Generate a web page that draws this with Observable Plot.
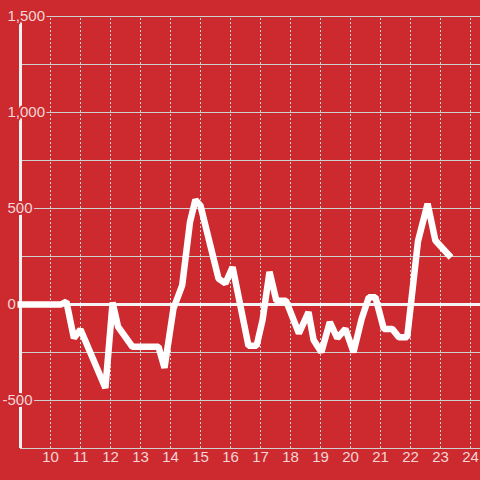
<!DOCTYPE html>
<html>
<head>
<meta charset="utf-8">
<script src="https://cdn.jsdelivr.net/npm/d3@7"></script>
<script src="https://cdn.jsdelivr.net/npm/@observablehq/plot@0.6"></script>
<style>
  html, body { margin: 0; padding: 0; background: #cc2a2f; }
</style>
</head>
<body>
<div id="chart"></div>
<script>
const xValues = [8.9, 10.35, 10.53, 10.78, 11.0, 11.83, 12.07, 12.25, 12.73, 13.6, 13.8, 14.1, 14.39, 14.65, 14.83, 15.0, 15.6, 15.83, 16.07, 16.6, 16.87, 17.07, 17.3, 17.53, 17.85, 18.28, 18.6, 18.77, 19.03, 19.31, 19.56, 19.83, 20.1, 20.37, 20.61, 20.83, 21.11, 21.39, 21.61, 21.89, 22.25, 22.57, 22.83, 23.35];
const yValues = [0, 0, 15, -175, -130, -435, 10, -115, -220, -220, -330, -20, 100, 430, 545, 515, 135, 110, 195, -215, -215, -80, 170, 20, 20, -150, -40, -185, -248, -92, -175, -127, -248, -75, 38, 38, -127, -127, -170, -170, 330, 525, 333, 245];
const xTicks = [10, 11, 12, 13, 14, 15, 16, 17, 18, 19, 20, 21, 22, 23, 24];
const yGrid = [-750, -500, -250, 0, 250, 500, 750, 1000, 1250, 1500];
const yLabels = [-500, 0, 500, 1000, 1500];

const data = xValues.map((x, i) => ({x, y: yValues[i]}));
const bg = "#cc2a2f";
const txt = "#f5d6d6";
const fmt = d3.format(",");

const chart = Plot.plot({
  width: 480,
  height: 480,
  marginLeft: 20,
  marginRight: 0,
  marginTop: 16,
  marginBottom: 32,
  style: {background: bg, fontFamily: "'Liberation Sans', Arial, sans-serif", fontSize: "15px"},
  x: {domain: [9, 9 + 460 / 30], axis: null},
  y: {domain: [-750, 1500], axis: null},
  marks: [
    Plot.ruleX(xTicks, {x: d => d, y1: -750, y2: 1500, stroke: "#d6d6d6", strokeWidth: 1, strokeDasharray: "2,2"}),
    Plot.ruleY(yGrid, {y: d => d, stroke: "#cfcfcf", strokeWidth: 1}),
    Plot.ruleY([0], {stroke: "#f4f4f4", strokeWidth: 3}),
    Plot.ruleX([9], {y1: -750, y2: 1500, stroke: "#f0f0f0", strokeWidth: 3}),
    Plot.text(xTicks, {x: d => d, frameAnchor: "bottom", dy: 13, text: d => String(d), fill: txt, fontSize: 15}),
    Plot.text(yLabels.filter(d => d >= 0), {y: d => d, frameAnchor: "left", dx: -13, textAnchor: "start", text: d => fmt(d), fill: txt, fontSize: 15, stroke: bg, strokeWidth: 4}),
    Plot.text(yLabels.filter(d => d < 0), {y: d => d, frameAnchor: "left", dx: -18, textAnchor: "start", text: d => "-" + fmt(-d), fill: txt, fontSize: 15, stroke: bg, strokeWidth: 4}),
    Plot.line(data, {x: "x", y: "y", stroke: "white", strokeWidth: 6.5, strokeLinejoin: "miter", strokeLinecap: "butt", curve: "linear"})
  ]
});
document.getElementById("chart").appendChild(chart);
</script>
</body>
</html>
